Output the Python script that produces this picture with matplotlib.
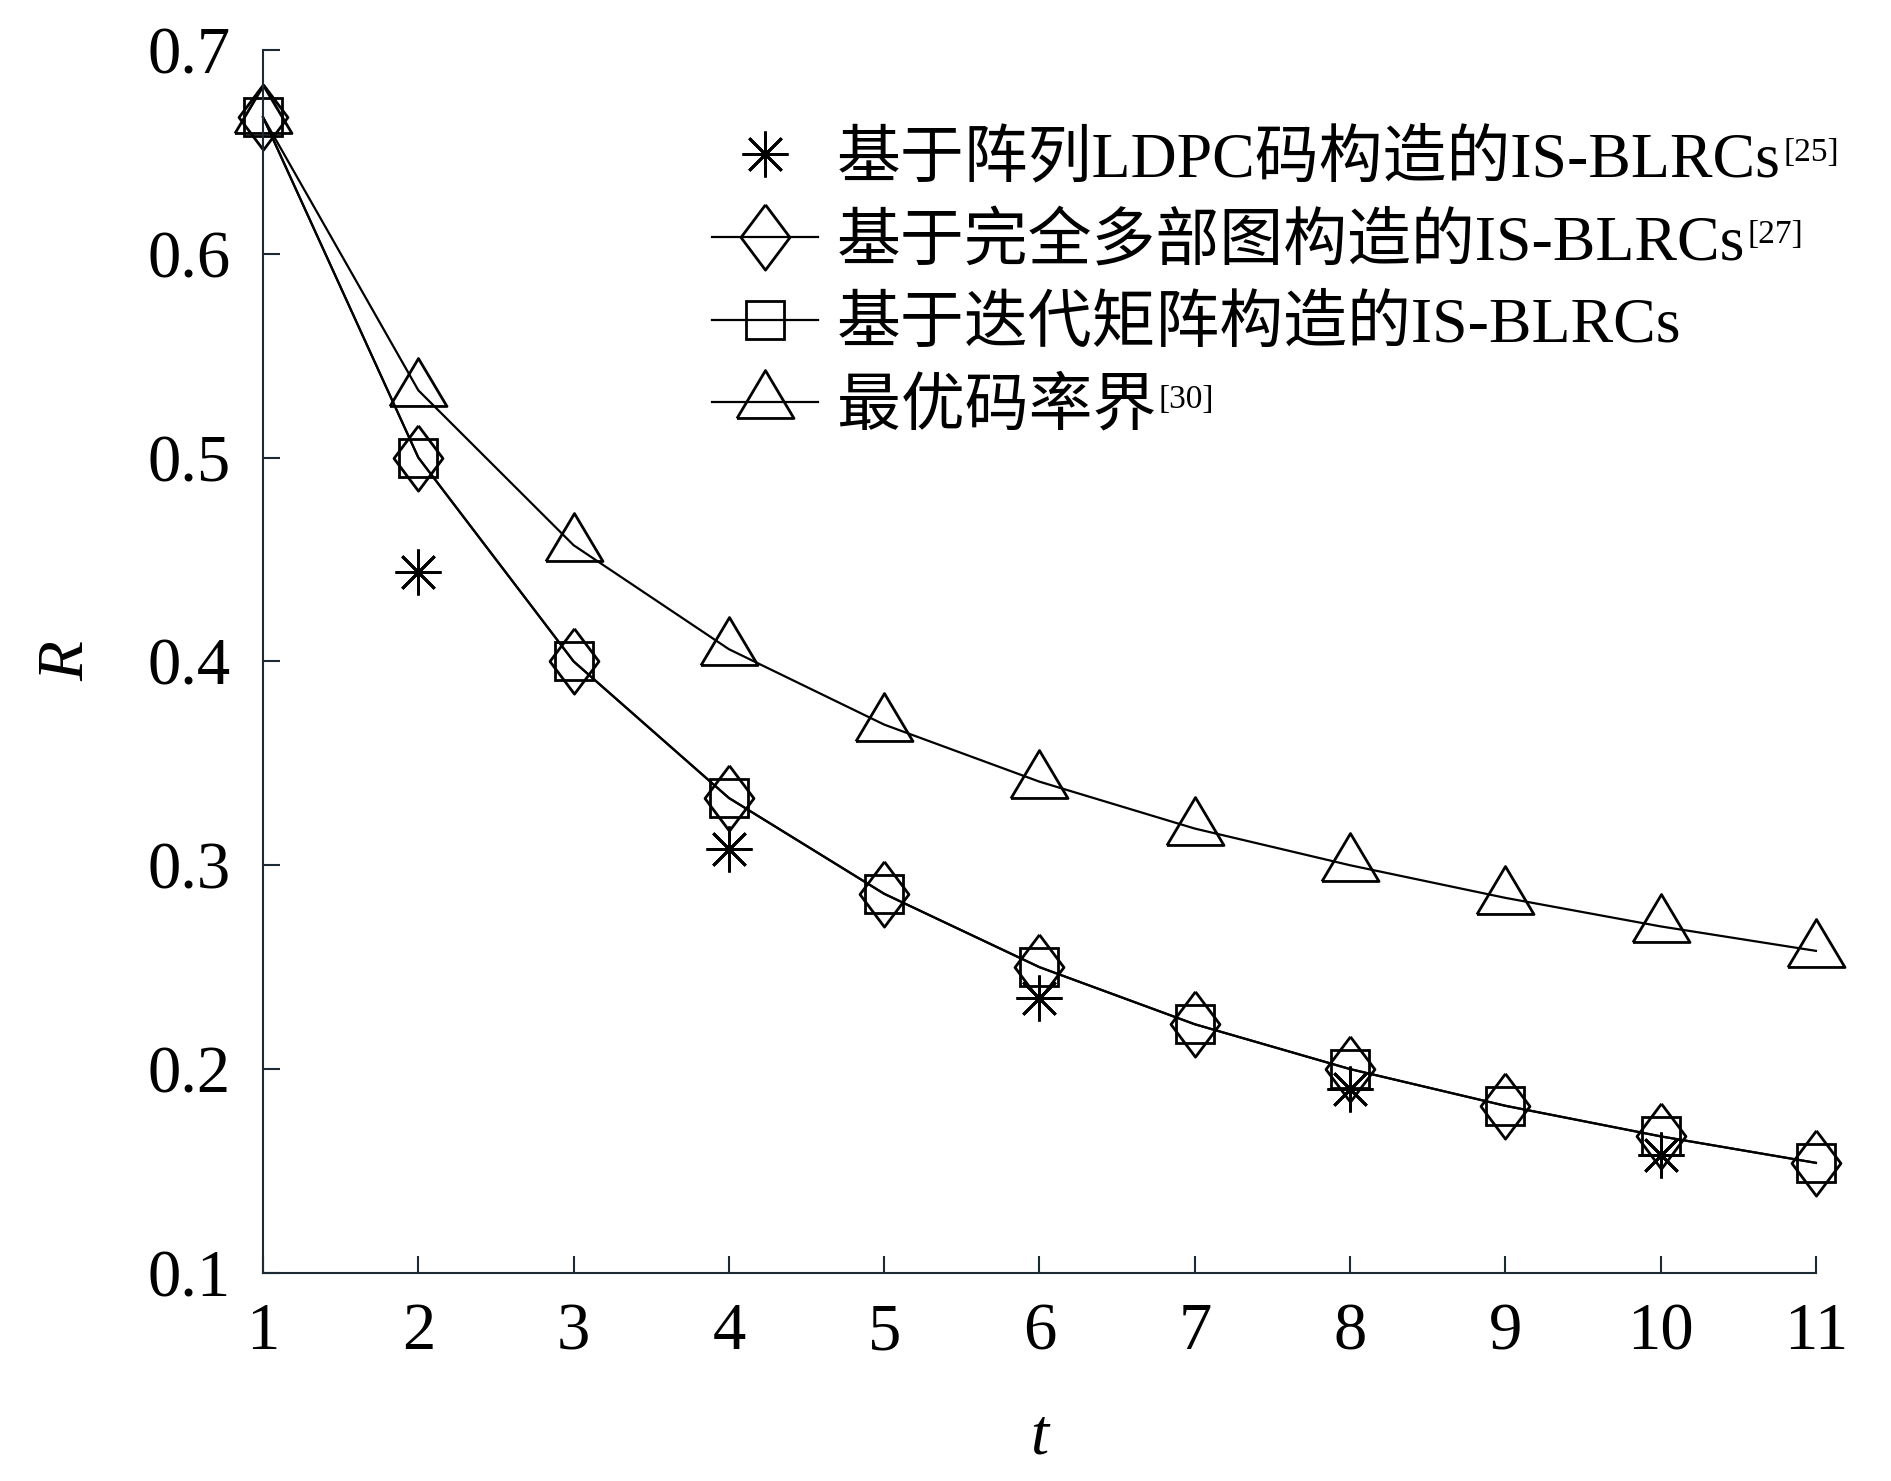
import matplotlib
matplotlib.use('Agg')
import matplotlib.pyplot as plt
from matplotlib.font_manager import FontProperties

# data
t = [1, 2, 3, 4, 5, 6, 7, 8, 9, 10, 11]
t_array = [2, 4, 6, 8, 10]
r_array = [0.444, 0.308, 0.235, 0.190, 0.158]
r_multipartite = [0.667, 0.500, 0.400, 0.333, 0.286, 0.250, 0.222, 0.200, 0.182, 0.167, 0.154]
r_iterative = [0.667, 0.500, 0.400, 0.333, 0.286, 0.250, 0.222, 0.200, 0.182, 0.167, 0.154]
r_bound = [0.667, 0.533, 0.457, 0.406, 0.369, 0.341, 0.318, 0.300, 0.284, 0.270, 0.258]

labels = ['基于阵列LDPC码构造的IS-BLRCs', '基于完全多部图构造的IS-BLRCs',
          '基于迭代矩阵构造的IS-BLRCs', '最优码率界']
refs = ['[25]', '[27]', '', '[30]']
yticks = [0.1, 0.2, 0.3, 0.4, 0.5, 0.6, 0.7]

serif = 'Liberation Serif'
mixed = FontProperties(family=[serif, 'Noto Sans CJK SC'], size=46)
axcol = '#1c2b33'

# hollow marker shapes
diamond = [(0, 1), (0.75, 0), (0, -1), (-0.75, 0), (0, 1)]
triangle = [(-1, -0.56), (1, -0.56), (0, 1.12), (-1, -0.56)]

fig = plt.figure(figsize=(18.91, 14.81), dpi=100)
ax = fig.add_axes([0.1391, 0.1405, 0.8212, 0.8258])

ax.plot(t_array, r_array, linestyle='none', marker=(8, 2, 0), ms=33, mew=2,
        color='black', label=labels[0], clip_on=False)
ax.plot(t, r_multipartite, '-', lw=1.6, color='black', marker=diamond, ms=47,
        mfc='none', mew=2, label=labels[1], clip_on=False)
ax.plot(t, r_iterative, '-', lw=1.6, color='black', marker='s', ms=28,
        mfc='none', mew=2, label=labels[2], clip_on=False)
ax.plot(t, r_bound, '-', lw=1.6, color='black', marker=triangle, ms=46,
        mfc='none', mew=2, label=labels[3], clip_on=False)

ax.set_xlim(1, 11)
ax.set_ylim(0.1, 0.7)
ax.set_xticks(t)
ax.set_xticklabels([str(v) for v in t], fontfamily=serif, fontsize=48)
ax.set_yticks(yticks)
ax.set_yticklabels(['%.1f' % v for v in yticks], fontfamily=serif, fontsize=48)
ax.tick_params(direction='in', length=12, width=1.5, color=axcol)
ax.tick_params(axis='x', pad=21)
ax.tick_params(axis='y', pad=23)
for s in ['top', 'right']:
    ax.spines[s].set_visible(False)
for s in ['left', 'bottom']:
    ax.spines[s].set_color(axcol)
    ax.spines[s].set_linewidth(1.5)

ax.set_xlabel('t', fontfamily=serif, fontstyle='italic', fontsize=47)
ax.set_ylabel('R', fontfamily=serif, fontstyle='italic', fontsize=47)
ax.xaxis.label.set_va('center')
ax.yaxis.label.set_va('center')
ax.xaxis.set_label_coords(0.5, -0.135)
ax.yaxis.set_label_coords(-0.126, 0.5)

leg = ax.legend(loc='upper left', bbox_to_anchor=(0.3765, 0.9115),
                bbox_transform=fig.transFigure, frameon=False, prop=mixed,
                handlelength=1.66, handletextpad=0.3, labelspacing=0.36,
                borderpad=0, borderaxespad=0)

# superscript reference numbers after the legend labels
fig.canvas.draw()
W, H = fig.canvas.get_width_height()
for txt, ref in zip(leg.get_texts(), refs):
    if ref:
        bb = txt.get_window_extent()
        fig.text((bb.x1 + 2) / W, (bb.y1 - 6) / H, ref, fontfamily=serif,
                 fontsize=24, ha='left', va='top')

fig.savefig('out.png', dpi=100)
